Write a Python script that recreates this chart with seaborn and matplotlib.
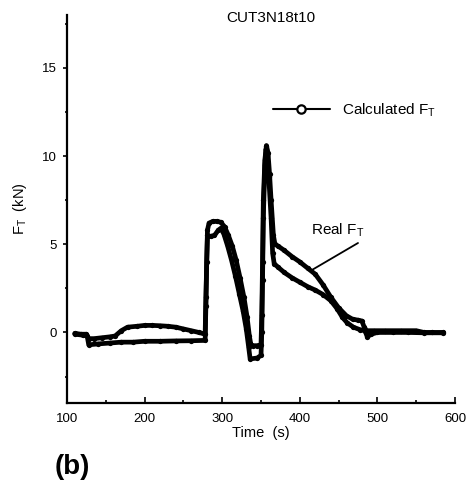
import matplotlib
matplotlib.use("Agg")
import matplotlib.pyplot as plt
from matplotlib.lines import Line2D
import seaborn as sns
import pandas as pd

sns.set_style("ticks", {"text.color": "black", "axes.labelcolor": "black",
                        "xtick.color": "black", "ytick.color": "black",
                        "axes.edgecolor": "black"})
plt.rcParams["font.family"] = ["Liberation Sans", "DejaVu Sans"]
plt.rcParams["mathtext.fontset"] = "custom"
plt.rcParams["mathtext.rm"] = "Liberation Sans"
plt.rcParams["mathtext.it"] = "Liberation Sans"

# Measured (real) thrust force
t_real = [110, 118, 125, 128, 135, 145, 155, 162, 170, 178, 190, 200, 210, 220,
          230, 240, 250, 260, 270, 278, 279, 281, 283, 288, 293, 298, 303, 308,
          313, 318, 323, 328, 332, 335, 337, 340, 345, 350, 351, 352, 353, 355,
          357, 359, 361, 363, 366, 368, 372, 380, 390, 400, 410, 420, 430, 440,
          450, 460, 468, 475, 480, 483, 486, 495, 510, 530, 550, 560, 570, 585]
f_real = [-0.05, -0.1, -0.1, -0.35, -0.35, -0.3, -0.25, -0.2, 0.1, 0.3, 0.35, 0.4,
          0.4, 0.38, 0.35, 0.3, 0.2, 0.1, 0.0, -0.1, 2.0, 5.8, 6.2, 6.3, 6.3, 6.25,
          6.0, 5.5, 4.9, 4.1, 3.1, 2.0, 0.9, -0.2, -0.7, -0.75, -0.75, -0.7, 1.0,
          4.0, 7.5, 9.8, 10.6, 10.2, 9.0, 7.5, 5.5, 5.0, 4.9, 4.65, 4.3, 4.0, 3.65,
          3.3, 2.7, 2.0, 1.4, 0.95, 0.75, 0.7, 0.65, 0.3, 0.1, 0.1, 0.1, 0.1, 0.1,
          0.0, 0.0, 0.0]

# Calculated thrust force
t_calc = [110, 120, 126, 128, 140, 155, 170, 185, 200, 220, 240, 260, 278, 279,
          280, 281, 285, 290, 295, 298, 302, 307, 312, 317, 322, 327, 331, 334,
          336, 345, 350, 351, 352, 353, 355, 356.5, 358, 360, 363, 365, 367, 372,
          380, 390, 400, 410, 420, 430, 440, 448, 455, 461, 469, 478, 484, 487,
          492, 500, 520, 540, 560, 585]
f_calc = [-0.1, -0.15, -0.2, -0.7, -0.65, -0.6, -0.55, -0.55, -0.5, -0.5, -0.48,
          -0.47, -0.45, 1.5, 4.0, 5.5, 5.45, 5.5, 5.8, 5.9, 5.6, 4.9, 4.1, 3.2, 2.2,
          1.2, 0.2, -0.8, -1.5, -1.45, -1.3, 0.0, 3.0, 6.5, 9.5, 10.4, 10.0, 8.8,
          6.5, 4.5, 3.9, 3.7, 3.4, 3.1, 2.85, 2.6, 2.4, 2.15, 1.8, 1.35, 0.85, 0.55,
          0.3, 0.15, 0.1, -0.25, -0.1, 0.0, 0.0, 0.0, -0.02, -0.02]

x_ticks = [100, 200, 300, 400, 500, 600]
y_ticks = [0, 5, 10, 15]

df_real = pd.DataFrame({"t": t_real, "F": f_real})
df_calc = pd.DataFrame({"t": t_calc, "F": f_calc})

W, H = 466, 487
fig = plt.figure(figsize=(W / 100, H / 100), dpi=100)
ax = fig.add_axes([67 / W, 1 - 403 / H, (455 - 67) / W, (403 - 15) / H])

style = dict(color="black", linewidth=3.4, marker="o", markersize=3.8,
             markeredgewidth=0, sort=False, estimator=None, ax=ax)
sns.lineplot(data=df_real, x="t", y="F", **style)
sns.lineplot(data=df_calc, x="t", y="F", **style)

ax.set_xlim(100, 600)
ax.set_ylim(-4, 18)
ax.set_xticks(x_ticks)
ax.set_yticks(y_ticks)
ax.set_xticks(range(150, 600, 100), minor=True)
ax.set_yticks([-2.5, 2.5, 7.5, 12.5, 17.5], minor=True)
ax.tick_params(axis="x", which="major", direction="in", length=4, width=1.2,
               labelsize=9.5, pad=7)
ax.tick_params(axis="x", which="minor", direction="in", length=2.5, width=1.2)
ax.tick_params(axis="y", which="major", direction="out", length=3, width=1.2,
               labelsize=9.5, pad=4)
ax.tick_params(axis="y", which="minor", direction="out", length=1.5, width=1.2)
for side in ("top", "right"):
    ax.spines[side].set_visible(False)
for side in ("left", "bottom"):
    ax.spines[side].set_linewidth(1.6)

ax.set_xlabel("Time  (s)", fontsize=10.5, labelpad=1)
ax.set_ylabel(r"F$_\mathrm{T}$  (kN)", fontsize=10.5, labelpad=10)

fig.text(271 / W, 1 - 18 / H, "CUT3N18t10", ha="center", va="center",
         fontsize=11)

handle = Line2D([], [], color="black", linewidth=1.5, marker="o", markersize=6,
                markerfacecolor="white", markeredgewidth=1.6)
ax.legend([handle], [r"Calculated F$_\mathrm{T}$"], loc="center left",
          bbox_to_anchor=(273 / W, 1 - 110 / H),
          bbox_transform=fig.transFigure, frameon=False, fontsize=11,
          handlelength=3.7, handletextpad=0.8, borderpad=0, borderaxespad=0)

# Label for the measured curve with a leader line pointing at it
fig.text(338 / W, 1 - 230 / H, r"Real F$_\mathrm{T}$", ha="center",
         va="center", fontsize=11)
ax.annotate("", xy=(414, 3.5), xytext=(358, H - 243),
            textcoords="figure pixels",
            arrowprops=dict(arrowstyle="-", color="black", lw=1.3,
                            shrinkA=0, shrinkB=0))

fig.text(72 / W, 1 - 467 / H, "(b)", ha="center", va="center",
         fontsize=20, fontweight="bold")

fig.savefig("out.png", dpi=100)
